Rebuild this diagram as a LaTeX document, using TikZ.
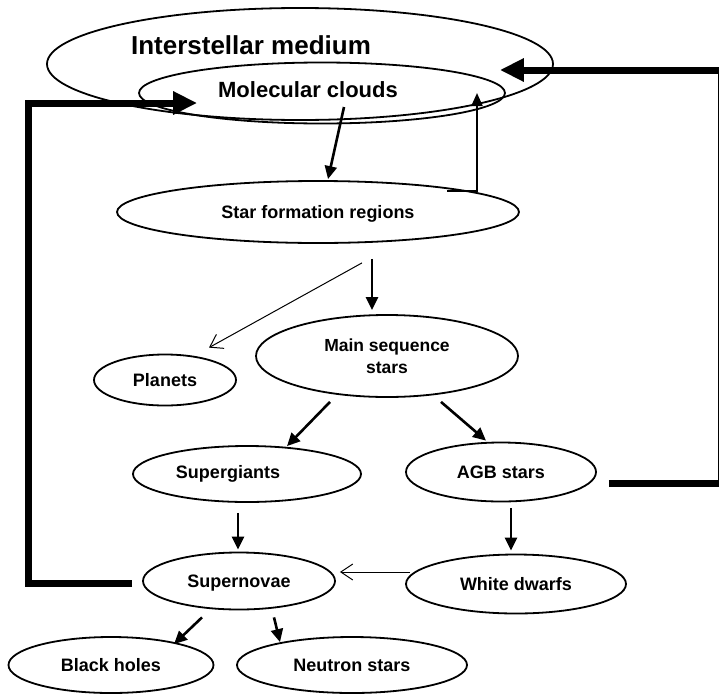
\documentclass[tikz,border=0pt]{standalone}
\usepackage{fontspec}
\setmainfont{Liberation Sans}
\usetikzlibrary{arrows.meta,calc,shapes.geometric}
\begin{document}
\begin{tikzpicture}[x=1pt,y=-1pt,
  ell/.style={draw,ellipse,line width=1.8pt,inner sep=0pt,
    font=\fontsize{18}{22}\selectfont\bfseries,text height=12.9pt,text depth=0pt,align=center},
  txt/.style={inner sep=0pt,text depth=0pt},
  arr/.style={line width=2.6pt,-{Triangle[length=13pt,width=12pt]}},
  thinarr/.style={line width=1pt,-{Straight Barb[length=12pt,width=16pt,line width=1pt]}},
  fb/.style={line width=7pt,line join=miter,-{Triangle[length=24pt,width=22pt]}}]
\useasboundingbox (0,0) rectangle (719,696);
\fill[white] (0,0) rectangle (719,696);

% ellipses
\node[ell,minimum width=506pt,minimum height=112pt] (ism) at (300,64) {};
\node[ell,minimum width=366pt,minimum height=61pt] (mc) at (322,93) {};
\node[ell,minimum width=402pt,minimum height=62pt] (sf) at (318,212) {Star formation regions};
\node[ell,minimum width=142pt,minimum height=51pt] (pl) at (165,380) {Planets};
\node[ell,minimum width=262pt,minimum height=82pt,font=\fontsize{17.5}{22}\selectfont\bfseries,text height=34.5pt,text depth=0pt] (ms) at (387,356) {Main sequence\\stars};
\node[ell,minimum width=228pt,minimum height=56pt] (sg) at (247,474) {};
\node[ell,minimum width=190pt,minimum height=59pt] (agb) at (501,472) {AGB stars};
\node[ell,minimum width=192pt,minimum height=57pt] (sn) at (239,581) {Supernovae};
\node[ell,minimum width=220pt,minimum height=59pt] (wd) at (516,584) {White dwarfs};
\node[ell,minimum width=205pt,minimum height=56pt] (bh) at (111,665) {Black holes};
\node[ell,minimum width=230pt,minimum height=56pt] (ns) at (352,665) {Neutron stars};

% separate labels
\node[txt,font=\fontsize{26}{30}\selectfont\bfseries,text height=18.6pt] (ismtext) at (251,45) {Interstellar medium};
\node[txt,font=\fontsize{22}{26}\selectfont\bfseries,text height=15.8pt] (mctext) at (308,90) {Molecular clouds};
\node[txt,font=\fontsize{18}{22}\selectfont\bfseries,text height=12.9pt] (sgtext) at (228,472) {Supergiants};

% corner coordinates of the feedback loops
\coordinate (lb) at (28,583);
\coordinate (lt) at (28,103);
\coordinate (rb) at (721,483);
\coordinate (rt) at (721,70);

% connectors
\draw[arr] ($(mc.center)+(22,14)$) -- ($(sf.north)+(10,-1)$);
\draw[line width=2pt,-{Triangle[length=13pt,width=11pt]}] ($(sf.center)+(129,-21)$) -| ($(mc.center)+(155,0)$);
\draw[arr] ($(sf.south)+(54,15)$) -- ($(ms.north)+(-15,-4)$);
\draw[thinarr] ($(sf.south)+(44,19)$) -- ($(pl.north)+(44,-6)$);
\draw[arr] ($(ms.south)+(-57,4)$) -- ($(sg.north)+(40,1)$);
\draw[arr] ($(ms.south)+(54,4)$) -- ($(agb.north)+(-15,-1)$);
\draw[arr] ($(sg.south)+(-9,10)$) -- ($(sn.north)+(-1,-2)$);
\draw[arr] ($(agb.south)+(10,6)$) -- ($(wd.north)+(-5,-3)$);
\draw[thinarr] ($(wd.west)+(5,-12)$) -- ($(sn.east)+(4,-9)$);
\draw[arr] ($(sn.south)+(-37,7)$) -- ($(bh.north)+(63,8)$);
\draw[arr] ($(sn.south)+(35,7)$) -- ($(ns.north)+(-72,6)$);
\draw[fb] ($(sn.west)+(-10,2)$) -- (lb) -- (lt) -- ($(mc.west)+(59,10)$);
\draw[fb] ($(agb.east)+(12,11)$) -- (rb) -- (rt) -- ($(ism.east)+(-54,6)$);
\end{tikzpicture}
\end{document}
